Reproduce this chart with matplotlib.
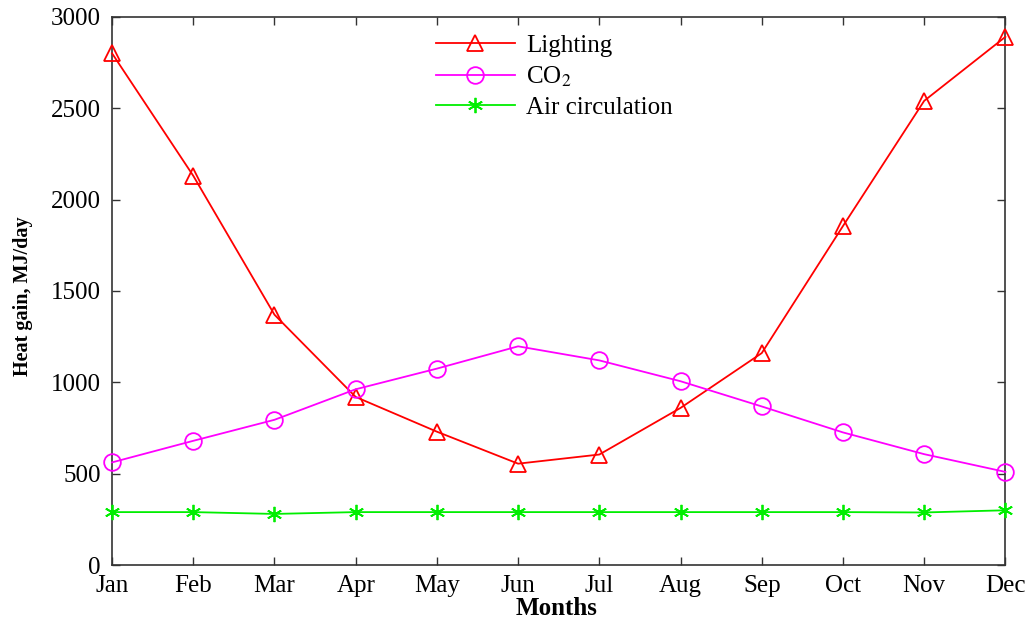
import matplotlib
matplotlib.use("Agg")
from matplotlib import pyplot as plt
import numpy as np

months = ["Jan", "Feb", "Mar", "Apr", "May", "Jun",
          "Jul", "Aug", "Sep", "Oct", "Nov", "Dec"]
lighting = [2800, 2130, 1370, 920, 730, 555, 605, 860, 1160, 1855, 2540, 2890]
co2 = [562, 680, 795, 962, 1075, 1197, 1120, 1006, 868, 726, 607, 510]
air_circ = [290, 290, 280, 290, 290, 290, 290, 290, 290, 290, 288, 300]

plt.rcParams['font.family'] = ['Liberation Serif', 'DejaVu Serif']
plt.rcParams['mathtext.fontset'] = 'stix'

fig = plt.figure(figsize=(10.28, 6.21), dpi=100)
ax = fig.add_axes([0.109, 0.090, 0.869, 0.883])

x = np.arange(1, 13)
ax.plot(x, lighting, color='#ff0000', lw=1.3, marker='^', ms=11,
        mfc='none', mew=1.3, label='Lighting', clip_on=False, zorder=3)
ax.plot(x, co2, color='#ff00ff', lw=1.3, marker='o', ms=12,
        mfc='none', mew=1.3, label=r'CO$_{\mathrm{2}}$', clip_on=False, zorder=3)
# six-spoke asterisk
ax.plot(x, air_circ, color='#00ee00', lw=1.3, marker=(6, 2, 0), ms=11,
        mew=1.3, label='Air circulation', clip_on=False, zorder=3)

ax.set_xlim(1, 12)
ax.set_ylim(0, 3000)
ax.set_xticks(x)
ax.set_xticklabels(months)
ax.set_yticks(np.arange(0, 3001, 500))
ax.tick_params(direction='in', top=True, right=True, length=6,
               width=1, color='#333333', labelsize=18)
ax.tick_params(axis='x', pad=7)
ax.tick_params(axis='y', pad=8)
for s in ax.spines.values():
    s.set_color('#333333')
    s.set_linewidth(1.2)

ax.set_xlabel('Months', fontsize=18, fontweight='bold')
ax.xaxis.set_label_coords(0.498, -0.058)
ax.set_ylabel('Heat gain, MJ/day', fontsize=14.5, fontweight='bold')
ax.yaxis.set_label_coords(-0.088, 0.49)

ax.legend(loc='upper left', bbox_to_anchor=(0.343, 1.0), frameon=False,
          fontsize=18, handlelength=3.15, handletextpad=0.45,
          labelspacing=0.3, borderaxespad=0.3)

fig.savefig('out.png', dpi=100)
